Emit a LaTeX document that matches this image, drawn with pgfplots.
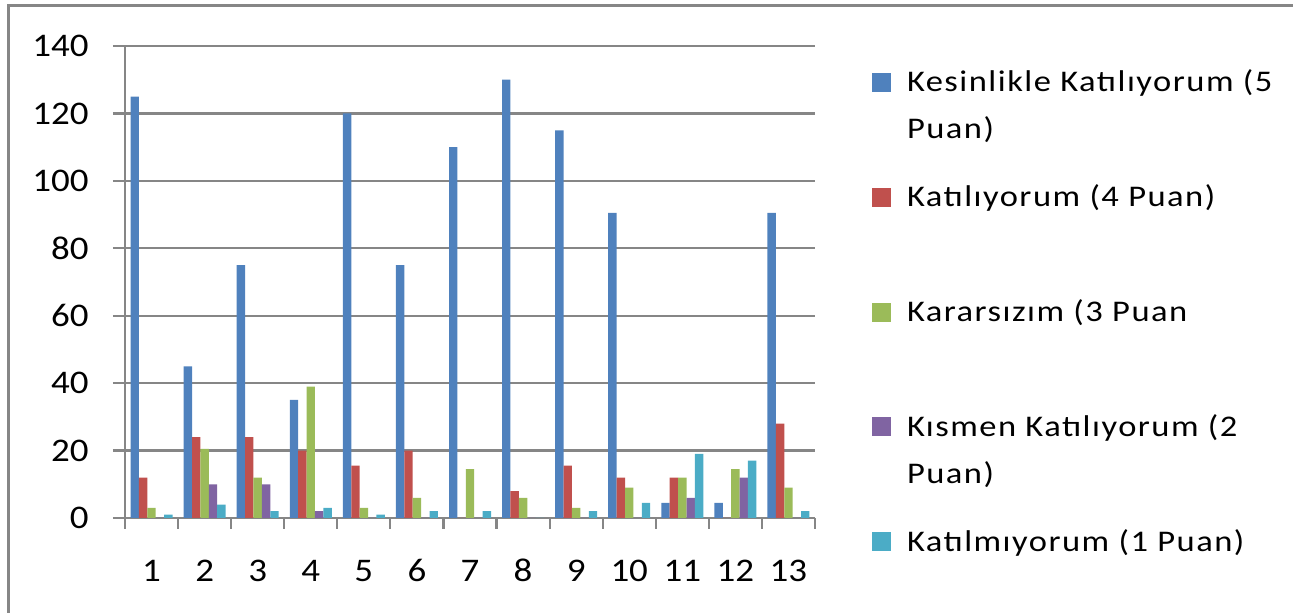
\documentclass[border=0pt]{standalone}
\usepackage{fontspec}
\setmainfont{Carlito}[FakeStretch=1.12]
\newfontfamily\legfont{Carlito}[FakeStretch=1.15, LetterSpace=5]
\usepackage{pgfplots}
\pgfplotsset{compat=1.18}
\usepackage{pgfplotstable}
\definecolor{c1}{HTML}{4F81BD}
\definecolor{c2}{HTML}{C0504D}
\definecolor{c3}{HTML}{9BBB59}
\definecolor{c4}{HTML}{8064A2}
\definecolor{c5}{HTML}{4BACC6}
\definecolor{gridgray}{RGB}{134,134,134}
\pgfplotstableread{
cat k5 k4 k3 k2 k1
1 125 12 3 0 1
2 45 24 20.5 10 4
3 75 24 12 10 2
4 35 20 39 2 3
5 120 15.5 3 0 1
6 75 20 6 0 2
7 110 0 14.5 0 2
8 130 8 6 0 0
9 115 15.5 3 0 2
10 90.5 12 9 0 4.5
11 4.5 12 12 6 19
12 4.5 0 14.5 12 17
13 90.5 28 9 0 2
}\data
\begin{document}
\begin{tikzpicture}
\useasboundingbox (0,0) rectangle (646.5pt,306.5pt);
\draw[gridgray, line width=1.4pt] (4.35pt,-5pt) -- (4.35pt,303.75pt) -- (660pt,303.75pt);
\begin{axis}[
  at={(62.5pt,47.5pt)}, anchor=south west,
  scale only axis, width=345pt, height=236pt,
  xmin=0.5, xmax=13.5, ymin=0, ymax=140,
  ybar=0pt, bar width=4.2pt,
  ytick={0,20,...,140},
  xtick={1,...,13},
  minor xtick={0.5,1.5,...,13.5},
  axis x line*=bottom, axis y line*=left,
  axis line style={gridgray, line width=1.1pt},
  ymajorgrids, major grid style={gridgray, line width=1.1pt},
  tick align=outside, major tick length=6pt, minor tick length=5.5pt,
  tick style={gridgray, line width=1.1pt},
  major x tick style={draw=none},
  /pgf/number format/assume math mode=true,
  tick label style={font=\fontsize{16.5}{20}\selectfont},
  yticklabel style={anchor=east, inner sep=0pt, xshift=-12pt},
  xticklabel style={anchor=base, inner sep=0pt, yshift=-26pt},
  legend style={
    at={(1.0826,0.9492)}, anchor=north west,
    draw=none, fill=none, inner sep=0pt, outer sep=0pt,
    row sep=16.4pt, column sep=8pt,
    font=\legfont\fontsize{15}{23.5}\selectfont,
    nodes={inner sep=0pt, outer sep=0pt, text height=11pt, text depth=30pt},
    cells={anchor=base west},
  },
  legend image code/.code={\fill[#1] (0pt,0pt) rectangle (9.5pt,9.5pt);},
]
\addplot[fill=c1, draw=none] table[x=cat,y=k5]{\data};
\addlegendentry{\parbox[t]{8cm}{Kesinlikle Katılıyorum (5\\Puan)}}
\addplot[fill=c2, draw=none] table[x=cat,y=k4]{\data};
\addlegendentry{Katılıyorum (4 Puan)}
\addplot[fill=c3, draw=none] table[x=cat,y=k3]{\data};
\addlegendentry{Kararsızım (3 Puan}
\addplot[fill=c4, draw=none] table[x=cat,y=k2]{\data};
\addlegendentry{\parbox[t]{8cm}{Kısmen Katılıyorum (2\\Puan)}}
\addplot[fill=c5, draw=none] table[x=cat,y=k1]{\data};
\addlegendentry{Katılmıyorum (1 Puan)}
\end{axis}
\end{tikzpicture}
\end{document}
